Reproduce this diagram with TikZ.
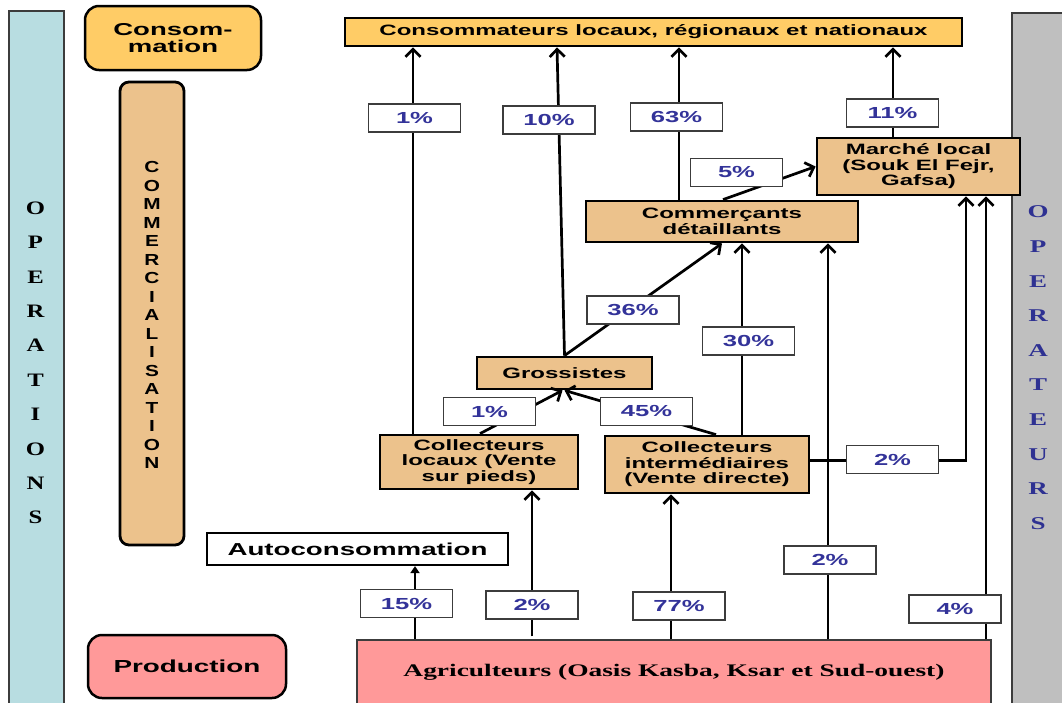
\documentclass[tikz,border=0pt]{standalone}
\usepackage{fontspec}
\usetikzlibrary{arrows.meta}
\newfontfamily\widesans[FakeStretch=1.6]{Liberation Sans}
\newfontfamily\midsans[FakeStretch=1.3]{Liberation Sans}
\newfontfamily\wideserif[FakeStretch=1.55]{Liberation Serif}
\newfontfamily\barserif[FakeStretch=1.3]{Liberation Serif}
\newfontfamily\barserifw[FakeStretch=1.5]{Liberation Serif}
\definecolor{opblue}{RGB}{184,221,225}
\definecolor{opgray}{RGB}{191,191,191}
\definecolor{consyellow}{RGB}{255,204,102}
\definecolor{tanbox}{RGB}{236,194,140}
\definecolor{prodpink}{RGB}{255,153,153}
\definecolor{pctblue}{RGB}{51,51,153}
\definecolor{letterblue}{RGB}{46,49,146}
\definecolor{edgegray}{RGB}{60,60,60}
\begin{document}
\begin{tikzpicture}[x=1pt,y=-1pt,
  box/.style={draw=black, line width=2.8pt, fill=tanbox, inner sep=0pt, align=center,
    font=\widesans\bfseries\fontsize{15}{15.5}\selectfont},
  pct/.style={draw=edgegray, line width=1.4pt, fill=white, minimum width=92pt,
    minimum height=28pt, inner sep=0pt, text=pctblue,
    font=\widesans\bfseries\fontsize{16}{16}\selectfont},
  flow/.style={line width=2.7pt, -{Straight Barb[length=7.5pt,width=15pt]}},
  tri/.style={line width=2.4pt, -{Triangle[length=7pt,width=9pt]}},
  opletter/.style={font=\barserif\bfseries\fontsize{19}{19}\selectfont, inner sep=0pt},
  eurletter/.style={font=\barserifw\bfseries\fontsize{18}{18}\selectfont, inner sep=0pt, text=letterblue},
  comletter/.style={font=\midsans\bfseries\fontsize{16}{16}\selectfont, inner sep=0pt}]
\useasboundingbox (0,0) rectangle (1062,702);

% side bands
\node[draw=edgegray, line width=1.5pt, fill=opblue, minimum width=55pt, minimum height=700pt,
  inner sep=0pt, anchor=north west] (opL) at (8,10) {};
\node[draw=edgegray, line width=1.5pt, fill=opgray, minimum width=60pt, minimum height=700pt,
  inner sep=0pt, anchor=north west] (opR) at (1011,12) {};
\foreach \ch [count=\i from 0] in {O,P,E,R,A,T,I,O,N,S} {
  \node[opletter] (opl\i) at (35.5,{208+34.4*\i}) {\ch};
}
\foreach \ch [count=\i from 0] in {O,P,E,R,A,T,E,U,R,S} {
  \node[eurletter] (opr\i) at (1038,{212+34.6*\i}) {\ch};
}

% stage labels
\node[draw=black, line width=2.5pt, fill=consyellow, rounded corners=14pt, minimum width=176pt,
  minimum height=64pt, inner sep=0pt, align=center,
  font=\widesans\bfseries\fontsize{17.2}{17}\selectfont] (consom) at (173,38) {Consom-\\mation};
\node[draw=black, line width=2.8pt, fill=tanbox, rounded corners=9pt, minimum width=64pt,
  minimum height=463pt, inner sep=0pt] (combar) at (152,313.5) {};
\foreach \ch [count=\i from 0] in {C,O,M,M,E,R,C,I,A,L,I,S,A,T,I,O,N} {
  \node[comletter] (cml\i) at (152,{167+18.5*\i}) {\ch};
}
\node[draw=black, line width=2.5pt, fill=prodpink, rounded corners=14pt, minimum width=198pt,
  minimum height=63pt, inner sep=0pt,
  font=\widesans\bfseries\fontsize{17.4}{17}\selectfont] (prod) at (187,666.5) {Production};

% actors
\node[box, fill=consyellow, minimum width=617pt, minimum height=28pt] (cons) at (653.5,32)
  {Consommateurs locaux, régionaux et nationaux};
\node[box, minimum width=203pt, minimum height=57pt] (marche) at (918.5,166.5)
  {Marché local\\(Souk El Fejr,\\Gafsa)};
\node[box, minimum width=272pt, minimum height=41pt] (comd) at (722,221.5)
  {Commerçants\\détaillants};
\node[box, minimum width=175pt, minimum height=32pt] (gros) at (564.5,373) {Grossistes};
\node[box, minimum width=198pt, minimum height=54pt] (coll) at (479,462)
  {Collecteurs\\locaux (Vente\\sur pieds)};
\node[box, minimum width=204pt, minimum height=57pt] (colli) at (707,464.5)
  {Collecteurs\\intermédiaires\\(Vente directe)};
\node[draw=black, line width=2.2pt, fill=white, minimum width=301pt, minimum height=32pt,
  inner sep=0pt, font=\widesans\bfseries\fontsize{17.3}{17}\selectfont] (auto) at (357.5,549)
  {Autoconsommation};
\node[draw=edgegray, line width=1.5pt, fill=prodpink, minimum width=634pt, minimum height=64pt,
  inner sep=0pt, font=\wideserif\bfseries\fontsize{17.7}{18}\selectfont] (agri) at (674,672)
  {Agriculteurs (Oasis Kasba, Ksar et Sud-ouest)};

% flows towards the consumers
\coordinate (a1) at ([xshift=-66pt]coll.north);
\draw[flow] (a1) -- (a1 |- cons.south);
\draw[flow] (gros.north) -- ([xshift=-96.5pt]cons.south);
\coordinate (a3) at ([xshift=-43pt]comd.north);
\draw[flow] (a3) -- (a3 |- cons.south);
\coordinate (a4) at ([xshift=-25.5pt]marche.north);
\draw[flow] (a4) -- (a4 |- cons.south);
\draw[flow] ([xshift=1pt]comd.north) -- (marche.west);
\draw[flow] (gros.north) -- (comd.south);
\draw[flow] ([xshift=1pt]coll.north) -- ([xshift=-2pt]gros.south);
\draw[flow] ([xshift=9pt]colli.north) -- (gros.south);
\coordinate (a9) at ([xshift=35pt]colli.north);
\draw[flow] (a9) -- (a9 |- comd.south);
\coordinate (a10) at ([yshift=4pt]colli.east);
\coordinate (a10b) at ([xshift=47.5pt]marche.south);
\draw[flow] (a10) -- (a10 -| a10b) -- (a10b);

% flows leaving the farms
\coordinate (b1) at ([xshift=-259pt]agri.north);
\draw[tri] (b1) -- (b1 |- auto.south);
\coordinate (b2) at ([xshift=-142pt,yshift=3pt]agri.north);
\draw[flow] (b2) -- (b2 |- coll.south);
\coordinate (b3) at ([xshift=-3pt]agri.north);
\draw[flow] (b3) -- (b3 |- colli.south);
\coordinate (b4) at ([xshift=154pt]agri.north);
\draw[flow] (b4) -- (b4 |- comd.south);
\coordinate (b5) at ([xshift=312pt]agri.north);
\draw[flow] (b5) -- (b5 |- marche.south);

% shares
\node[pct] (p1)   at (414.5,118)   {1\%};
\node[pct] (p10)  at (549,120)     {10\%};
\node[pct] (p63)  at (676.5,117)   {63\%};
\node[pct] (p11)  at (892.5,113)   {11\%};
\node[pct] (p5)   at (736.5,172.5) {5\%};
\node[pct] (p36)  at (633,310)     {36\%};
\node[pct] (p30)  at (748.5,341)   {30\%};
\node[pct] (p1b)  at (489.5,411.5) {1\%};
\node[pct] (p45)  at (646.5,411.5) {45\%};
\node[pct] (p2h)  at (892.5,459.5) {2\%};
\node[pct] (p2r)  at (830,560)     {2\%};
\node[pct] (p15)  at (406.5,603.5) {15\%};
\node[pct] (p2a)  at (532,605)     {2\%};
\node[pct] (p77)  at (679,606)     {77\%};
\node[pct] (p4)   at (955,609)     {4\%};
\end{tikzpicture}
\end{document}
